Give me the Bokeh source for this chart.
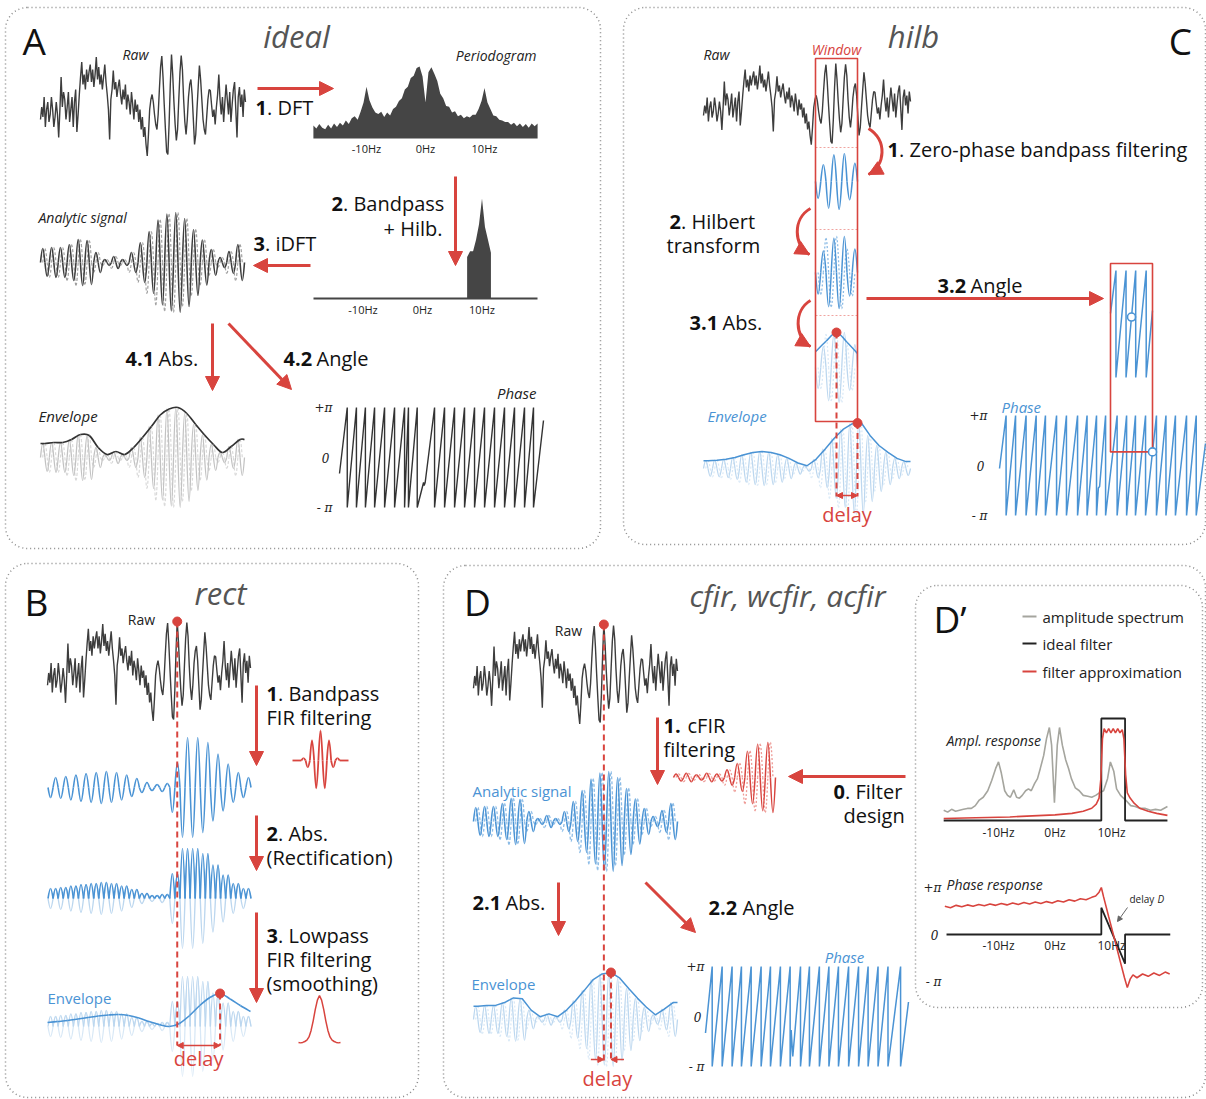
import numpy as np
from bokeh.plotting import figure
from bokeh.models import Range1d, Arrow, NormalHead, BoxAnnotation
from bokeh.core.properties import value
from bokeh.embed import file_html
from bokeh.resources import INLINE

# ---------------- data ----------------
# raw recording (normalised units), same segment shown in every panel
raw = [
    -0.3, -0.05, -0.25, 0.15, -0.45, -0.1, 0.05, -0.35, -0.2, 0.15,
    -0.1, -0.45, -0.25, 0.05, -0.2, -0.66, -0.1, 0.55, -0.05, 0.25,
    0.1, -0.3, -0.05, 0.25, -0.35, -0.1, 0.15, -0.45, 0.05, 0.3,
    -0.55, -0.2, 0.2, 0.55, 0.85, 0.4, 0.6, 0.3, 0.7, 0.45,
    0.65, 0.8, 0.45, 0.7, 0.35, 0.6, 0.95, 0.5, 0.75, 0.4,
    0.6, 0.3, 0.55, 0.8, 0.45, 0.2, -0.1, -0.7, 0.1, 0.3,
    0.68, 0.3, 0.45, 0.15, 0.35, 0.5, 0.2, 0.0, 0.3, 0.1,
    0.4, -0.1, 0.2, 0.05, -0.2, 0.25, 0.0, -0.3, 0.1, -0.15,
    0.0, -0.35, -0.1, -0.5, -0.25, -0.65, -0.45, -0.8,
    -1.03, -0.6, -0.1, 0.1, 0.2, 0.05, -0.2, -0.4,
    -0.5, -0.2, 0.3, 0.75, 0.97, 0.55, 0.0, -0.5,
    -0.95, -1.0, -0.4, 0.4, 1.0, 0.6, 0.05, -0.4,
    -0.72, -0.5, 0.1, 0.65, 0.98, 0.7, 0.1, -0.35,
    -0.6, -0.3, 0.15, 0.4, 0.5, 0.2, -0.3, -0.8,
    -0.6, -0.1, 0.35, 0.78, 0.5, 0.1, -0.3, -0.5,
    -0.6, -0.25, 0.1, 0.3, 0.28, 0.0, -0.25, -0.1,
    -0.4, -0.05, 0.2, 0.6, 0.1, -0.2, 0.15, -0.35,
    0.05, 0.4, 0.1, -0.2, 0.25, -0.35, 0.0, 0.3, 0.45,
    -0.1, -0.66, 0.15, 0.35, -0.05, 0.2, -0.25, 0.3, 0.05,
]

# periodogram on a 0.5 Hz grid from -19 Hz to +19 Hz
pgram_hz = np.arange(-19.0, 19.01, 0.5)
pgram = [
    0.18, 0.14, 0.2, 0.15, 0.13, 0.19, 0.14, 0.21, 0.16, 0.22,
    0.18, 0.25, 0.2, 0.28, 0.31, 0.26, 0.37, 0.5, 0.72, 0.53,
    0.43, 0.36, 0.34, 0.37, 0.3, 0.36, 0.32, 0.41, 0.44, 0.52,
    0.56, 0.68, 0.72, 0.84, 0.87, 0.98, 1.0, 0.86, 0.5, 0.92,
    0.99, 0.9, 0.8, 0.62, 0.56, 0.45, 0.44, 0.36, 0.38, 0.31,
    0.33, 0.28, 0.31, 0.29, 0.33, 0.33, 0.41, 0.52, 0.7, 0.5,
    0.41, 0.32, 0.31, 0.26, 0.25, 0.23, 0.23, 0.19, 0.22, 0.17,
    0.21, 0.16, 0.2, 0.15, 0.21, 0.17, 0.21,
]
band_hz = [7.5, 11.5]

# amplitude of each 10 Hz cycle
amp_analytic = [0.28, 0.3, 0.3, 0.36, 0.46, 0.44, 0.2, 0.06, 0.12, 0.06, 0.2, 0.4,
                0.62, 0.85, 0.97, 1.0, 0.88, 0.66, 0.45, 0.26, 0.1, 0.22, 0.36]
amp_hilb = [0.17, 0.18, 0.2, 0.24, 0.3, 0.35, 0.37, 0.35, 0.3, 0.22, 0.12, 0.06,
            0.2, 0.42, 0.65, 0.85, 0.97, 1.0, 0.72, 0.5, 0.35, 0.22, 0.15]
amp_fir = [0.2, 0.22, 0.25, 0.28, 0.3, 0.32, 0.3, 0.25, 0.18, 0.1, 0.06, 0.08,
           0.5, 1.0, 1.0, 0.9, 0.67, 0.47, 0.3, 0.2]
env_fir = [0.08, 0.1, 0.12, 0.15, 0.18, 0.21, 0.23, 0.24, 0.22, 0.17, 0.1,
           0.04, 0.0, 0.06, 0.22, 0.42, 0.58, 0.66, 0.55, 0.42, 0.3]
win_amp = [0.6, 0.95, 1.0, 0.65]
win_env = [0.45, 0.75, 1.0, 0.72, 0.4]
cfir_amp = [0.1, 0.12, 0.08, 0.12, 0.1, 0.22, 0.4, 0.75, 0.95, 1.0]

# filter kernels
fir_kernel = [0.08, -0.22, 0.67, -0.93, 1.0, -0.93, 0.67, -0.22, 0.08]
lp_kernel = [-0.02, -0.03, -0.02, 0.0, 0.03, 0.1, 0.24, 0.45, 0.7, 0.9, 1.0,
             0.9, 0.7, 0.45, 0.24, 0.1, 0.03, 0.0, -0.02, -0.03, -0.02]

# instantaneous phase: positions of the wraps (fraction of the segment), in units of pi
phase_ideal = dict(wraps=[.038, .083, .127, .172, .221, .27, .319, .338, .381, .466, .515,
                          .564, .613, .662, .711, .76, .809, .858, .907, .951],
                   start=-0.32, end=0.74, kinks=[(.412, -.5), (.415, -.56), (.42, -.5)])
phase_hilb = dict(wraps=[.032, .078, .129, .178, .223, .277, .325, .379, .425, .471, .515,
                         .571, .617, .66, .709, .762, .808, .854, .908, .955],
                  start=-0.06, end=0.44, kinks=[(.48, -.45), (.486, -.42)])
phase_win = dict(wraps=[.13, .37, .6, .85], start=0.2, end=0.25, kinks=[])
phase_cfir = dict(wraps=[.033, .082, .131, .177, .225, .274, .32, .369, .417, .468, .512,
                         .561, .608, .655, .705, .754, .801, .85, .899, .961],
                  start=-0.33, end=0.29, kinks=[(.422, -.27), (.43, -.8)])

# filter design: amplitude spectrum, ideal band, approximation
spec_hz = [-19.7, -19.0, -18.3, -17.6, -16.9, -16.2, -15.5, -14.8, -14.1, -13.4, -12.7, -11.9,
           -11.2, -10.5, -10.0, -9.5, -8.9, -8.4, -7.9, -7.3, -6.8, -6.3, -5.8, -5.2, -4.7,
           -4.2, -3.6, -3.1, -2.6, -2.0, -1.5, -1.0, -0.6, -0.1, 0.4, 0.8, 1.3, 1.9, 2.4,
           2.9, 3.6, 4.3, 5.0, 5.8, 6.5, 7.2, 7.9, 8.6, 9.3, 9.8, 10.4, 10.9, 11.6, 12.5,
           13.4, 14.2, 15.1, 16.0, 16.9, 17.8, 18.7, 19.9]
spec_amp = [.11, .09, .12, .1, .11, .12, .13, .13, .16, .22, .25, .32, .43, .56, .63, .51, .32,
            .27, .25, .33, .25, .24, .27, .32, .34, .32, .4, .45, .56, .7, .88, 1.0, .81, .19,
            .81, 1.0, .81, .65, .56, .45, .35, .32, .27, .26, .25, .27, .3, .32, .45, .63, .53,
            .34, .27, .22, .16, .15, .13, .13, .11, .12, .11, .15]
ideal_band = [8.2, 12.4]
approx_hz = [-19.7, -16, -12, -8, -4, 0, 3, 5, 6.5, 7.3, 7.8, 8.1, 8.4, 8.7, 9.1, 9.5, 9.9,
             10.3, 10.7, 11.1, 11.5, 11.9, 12.2, 12.5, 12.8, 13.3, 14, 15, 16.5, 18, 19.9]
approx_amp = [.02, .025, .03, .035, .045, .055, .07, .09, .12, .16, .22, .4, .8, .9, .86, .9,
              .86, .9, .86, .9, .86, .89, .8, .45, .27, .22, .17, .12, .09, .07, .05]
phase_hz = [-19.5, -18.5, -17.5, -16.5, -15.5, -14.5, -13.5, -12.5, -11.5, -10.5, -9.5, -8.5,
            -7.5, -6.5, -5.5, -4.5, -3.5, -2.5, -1.5, -0.5, 0.5, 1.5, 2.5, 3.5, 4.5, 5.5, 6.5,
            7.2, 7.8, 8.2, 8.6, 9.5, 10.5, 11.5, 12.3, 12.8, 13.3, 13.8, 14.5, 15.5, 16.5,
            17.5, 18.5, 19.5, 20.3]
approx_phase = [.60, .57, .62, .59, .63, .60, .64, .61, .65, .62, .66, .63, .67, .64, .68, .65,
                .69, .66, .70, .67, .72, .69, .74, .71, .76, .74, .79, .82, .9, 1.0, .8, .38,
                -.08, -.55, -.92, -1.13, -.95, -.86, -.92, -.84, -.89, -.82, -.87, -.8, -.84]
ideal_phase_edges = [0.57, -0.62]
freq_ticks = [-10, 0, 10]
freq_labels = ["-10Hz", "0Hz", "10Hz"]

# ---------------- style ----------------
W, H = 1206, 1099
RED = "#d8443e"
RED_L = "#ee9a95"
BLUE = "#4a93d4"
BLUE_M = "#8dbce6"
BLUE_L = "#bcd7ef"
BLUE_XL = "#d8e8f6"
DARK = "#3d3d3d"
TITLE = "#555555"
FONT = "Open Sans"
SERIF = "DejaVu Serif"
STEP = 20

p = figure(width=W, height=H, x_range=Range1d(0, W), y_range=Range1d(H, 0),
           x_axis_type=None, y_axis_type=None, output_backend="svg",
           toolbar_location=None, min_border=0)
p.grid.visible = False
p.outline_line_color = None
p.background_fill_color = "white"


def txt(x, y, s, size=18, color="#111111", style="normal", align="left", font=FONT):
    p.text(x=[x], y=[y], text=[s], text_font=value(font), text_font_size=f"{size}px",
           text_font_style=style, text_color=color, text_align=align,
           text_baseline="middle")


def step_label(y, parts, size=STEP):
    for x, s, bold in parts:
        txt(x, y, s, size, "#111111", "bold" if bold else "normal")


def arrow(x0, y0, x1, y1, size=14, width=3, color=RED, both=False):
    head = lambda: NormalHead(size=size, fill_color=color, line_color=color, line_width=1)
    p.add_layout(Arrow(end=head(), start=head() if both else None,
                       x_start=x0, y_start=y0, x_end=x1, y_end=y1,
                       line_color=color, line_width=width))


def curved_arrow(a, c0, c1, b):
    p.bezier(x0=[a[0]], y0=[a[1]], cx0=[c0[0]], cy0=[c0[1]], cx1=[c1[0]], cy1=[c1[1]],
             x1=[b[0]], y1=[b[1]], line_color=RED, line_width=3)
    sx = b[0] - 0.35 * (b[0] - c1[0])
    sy = b[1] - 0.35 * (b[1] - c1[1])
    p.add_layout(Arrow(end=NormalHead(size=14, fill_color=RED, line_color=RED),
                       x_start=sx, y_start=sy, x_end=b[0], y_end=b[1],
                       line_alpha=0.0))


def cycle_extremes(amps, t0=0.25, first=1):
    n = len(amps)
    ts, vs = [], []
    t, s = t0, first
    while t < n - 1e-9:
        ts.append(t)
        vs.append(s * amps[int(t)])
        t += 0.5
        s = -s
    return ts, vs


def draw_wave(ts, vs, x0, sx, yc, sy, color, width=1.4, dash="solid"):
    # quarter-wave cubic segments between extremes and zero crossings
    d0 = ts[1] - ts[0]
    d1 = ts[-1] - ts[-2]
    pts = [(ts[0] - d0 / 2, 0.0, False)]
    for i, (t, v) in enumerate(zip(ts, vs)):
        if i:
            pts.append(((ts[i - 1] + t) / 2, 0.0, False))
        pts.append((t, v, True))
    pts.append((ts[-1] + d1 / 2, 0.0, False))
    seg = {k: [] for k in ("x0", "y0", "x1", "y1", "cx0", "cy0", "cx1", "cy1")}
    for (ta, va, ea), (tb, vb, eb) in zip(pts[:-1], pts[1:]):
        h = tb - ta
        if ea:
            c = (ta + 0.362 * h, va, ta + 0.674 * h, 0.512 * va)
        else:
            c = (ta + 0.326 * h, 0.512 * vb, ta + 0.638 * h, vb)
        for k, v in zip(seg, (ta, va, tb, vb) + c):
            seg[k].append(v)
    X = lambda a: x0 + np.asarray(a) * sx
    Y = lambda a: yc - np.asarray(a) * sy
    p.bezier(x0=X(seg["x0"]), y0=Y(seg["y0"]), x1=X(seg["x1"]), y1=Y(seg["y1"]),
             cx0=X(seg["cx0"]), cy0=Y(seg["cy0"]), cx1=X(seg["cx1"]), cy1=Y(seg["cy1"]),
             line_color=color, line_width=width, line_dash=dash)


def smooth_line(xs, ys, color, width):
    xs = np.asarray(xs, float)
    ys = np.asarray(ys, float)
    n = len(xs)
    PX = np.concatenate([[xs[0]], xs, [xs[-1]]])
    PY = np.concatenate([[ys[0]], ys, [ys[-1]]])
    i = np.arange(n - 1)
    p.bezier(x0=xs[:-1], y0=ys[:-1], x1=xs[1:], y1=ys[1:],
             cx0=PX[i + 1] + (PX[i + 2] - PX[i]) / 6, cy0=PY[i + 1] + (PY[i + 2] - PY[i]) / 6,
             cx1=PX[i + 2] - (PX[i + 3] - PX[i + 1]) / 6, cy1=PY[i + 2] - (PY[i + 3] - PY[i + 1]) / 6,
             line_color=color, line_width=width)


def envelope_points(amps):
    n = len(amps)
    t = np.array([0.0] + [k + 0.5 for k in range(n)] + [float(n)])
    v = np.array([amps[0]] + list(amps) + [amps[-1]])
    return t, v


def sawtooth(wraps, start, end, kinks):
    ev = [(w, 0, None) for w in wraps] + [(kx, 1, ky) for kx, ky in kinks]
    ev.sort(key=lambda e: (e[0], e[1]))
    xs, ys = [0.0], [start]
    for x, kind, ky in ev:
        if kind == 0:
            xs += [x, x]
            ys += [1.0, -1.0]
        else:
            xs.append(x)
            ys.append(ky)
    xs.append(1.0)
    ys.append(end)
    return np.array(xs), np.array(ys)


def draw_phase(spec, x0, x1, yz, ypi, color, width):
    xs, ys = sawtooth(**spec)
    p.line(x0 + xs * (x1 - x0), yz - ys * ypi, line_color=color, line_width=width)
    return xs, ys


def phase_labels(x, yz, ypi, size=12):
    txt(x, yz - ypi, "+π", size, "#222", "italic", "right", SERIF)
    txt(x - 3, yz, "0", size, "#222", "italic", "right", SERIF)
    txt(x, yz + ypi, "- π", size, "#222", "italic", "right", SERIF)


def draw_raw(x0, x1, yc, sy):
    xs = np.linspace(x0, x1, len(raw))
    ys = yc - np.asarray(raw) * sy
    p.line(xs, ys, line_color=DARK, line_width=1.4)
    return xs, ys


def dashed_v(x, y0, y1):
    p.line([x, x], [y0, y1], line_color=RED, line_width=2, line_dash="6 4")


def dot(x, y, size=9):
    p.scatter([x], [y], size=size, fill_color=RED, line_color=RED)


# ---------------- panel frames ----------------
for l, r, t, b in [(5, 600, 7, 548), (623, 1205, 7, 544), (5, 418, 563, 1097),
                   (443, 1205, 565, 1097), (915, 1202, 585, 1007)]:
    p.add_layout(BoxAnnotation(left=l, right=r, top=t, bottom=b, border_radius=22,
                               fill_alpha=0.0, line_color="#888888", line_alpha=1.0,
                               line_dash="1 3", line_width=1.5))

# ---------------- A : ideal ----------------
txt(22, 40, "A", 37, "#111")
txt(296, 35, "ideal", 31, TITLE, "italic", "center")
txt(135, 54, "Raw", 14, "#222", "italic", "center")
draw_raw(40, 245, 104, 50)

hz = np.asarray(pgram_hz)
pg = np.asarray(pgram)
p.varea(x=425 + hz * 5.9, y1=138, y2=138 - pg * 72, fill_color="#454545")
txt(536, 55, "Periodogram", 14, "#222", "italic", "right")
for t_, lab in zip(freq_ticks, freq_labels):
    txt(425 + t_ * 5.9, 148, lab, 11, "#222", "normal", "center")

sel = (hz >= band_hz[0]) & (hz <= band_hz[1])
p.varea(x=422 + hz[sel] * 5.95, y1=298, y2=298 - pg[sel] * 143, fill_color="#454545")
p.line([313, 537], [298, 298], line_color="#454545", line_width=1.8)
for t_, lab in zip(freq_ticks, freq_labels):
    txt(422 + t_ * 5.95, 309, lab, 11, "#222", "normal", "center")

na = len(amp_analytic)
sxa = 204 / na
txt(38, 217, "Analytic signal", 14, "#222", "italic")
draw_wave(*cycle_extremes(amp_analytic, 0.5, 1), 40, sxa, 262, 50, "#a0a0a0", 1.2, "3 2")
draw_wave(*cycle_extremes(amp_analytic, 0.25, 1), 40, sxa, 262, 50, DARK, 1.6)

txt(38, 415, "Envelope", 15, "#222", "italic")
draw_wave(*cycle_extremes(amp_analytic, 0.5, 1), 40, sxa, 457, 50, "#d9d9d9", 1.2, "3 2")
draw_wave(*cycle_extremes(amp_analytic, 0.25, 1), 40, sxa, 457, 50, "#c2c2c2", 1.3)
te, ve = envelope_points(amp_analytic)
smooth_line(40 + te * sxa, 457 - ve * 50, "#333333", 1.7)

txt(536, 392, "Phase", 15, "#222", "italic", "right")
draw_phase(phase_ideal, 339, 543, 457, 50, "#333333", 1.4)
phase_labels(332, 457, 50)

arrow(257, 88, 333, 88)
step_label(107, [(255, "1", True), (266.5, ". DFT", False)])
arrow(455, 176, 455, 265)
step_label(203, [(331, "2", True), (342.5, ". Bandpass", False)])
step_label(228, [(383, "+ Hilb.", False)])
arrow(310, 265, 253, 265)
step_label(243, [(253, "3", True), (264.5, ". iDFT", False)])
arrow(212, 323, 212, 390)
arrow(228, 323, 291, 389)
step_label(358, [(125, "4.1", True), (158, "Abs.", False), (283, "4.2", True), (316, "Angle", False)])

# ---------------- C : hilb ----------------
txt(913, 35, "hilb", 31, TITLE, "italic", "center")
txt(1180, 40, "C", 37, "#111", "normal", "center")
txt(716, 54, "Raw", 14, "#222", "italic", "center")
draw_raw(703, 910, 103, 40)

WX0, WX1 = 815, 857
nw = len(win_amp)
sxw = (WX1 - WX0) / nw
for yy in (147, 229, 315):
    p.line([WX0, WX1], [yy, yy], line_color="#f0a4a0", line_width=1, line_dash="2 2")
draw_wave(*cycle_extremes(win_amp, 0.25, -1), WX0, sxw, 181, 28, BLUE, 1.6)
draw_wave(*cycle_extremes(win_amp, 0.5, -1), WX0, sxw, 272, 36, BLUE_M, 1.3, "2 2")
draw_wave(*cycle_extremes(win_amp, 0.25, -1), WX0, sxw, 272, 36, BLUE, 1.5)
draw_wave(*cycle_extremes(win_amp, 0.5, -1), WX0, sxw, 367, 35, BLUE_XL, 1.2, "2 2")
draw_wave(*cycle_extremes(win_amp, 0.25, -1), WX0, sxw, 367, 35, BLUE_L, 1.3)
wt = np.linspace(0, nw, len(win_env))
wxe = WX0 + wt * sxw
wye = 367 - np.asarray(win_env) * 35
smooth_line(wxe, wye, BLUE, 1.5)
kw = int(np.argmax(win_env))
p.quad(left=[WX0], right=[WX1], top=[58], bottom=[421], fill_alpha=0,
       line_color=RED, line_width=1.6)
txt((WX0 + WX1) / 2, 49, "Window", 14, RED, "italic", "center")

nh = len(amp_hilb)
sxh = 207 / nh
txt(707, 415, "Envelope", 15, BLUE, "italic")
draw_wave(*cycle_extremes(amp_hilb, 0.5, 1), 703, sxh, 468, 46, BLUE_XL, 1.2, "2 2")
draw_wave(*cycle_extremes(amp_hilb, 0.25, 1), 703, sxh, 468, 46, BLUE_L, 1.3)
th, vh = envelope_points(amp_hilb)
hx = 703 + th * sxh
hy = 468 - vh * 46
p.line(hx, hy, line_color=BLUE, line_width=1.5)
env_end_y = float(np.interp(WX1, hx, hy))

dashed_v(wxe[kw], wye[kw], 496)
dashed_v(WX1, env_end_y, 496)
dot(wxe[kw], wye[kw])
dot(WX1, env_end_y)
arrow(wxe[kw], 495, WX1, 495, size=6, width=1.5, both=True)
txt((wxe[kw] + WX1) / 2, 514, "delay", 20, RED, "normal", "center")

txt(1001, 406, "Phase", 15, BLUE, "italic")
PX0, PX1 = 999, 1205
pxs, pys = draw_phase(phase_hilb, PX0, PX1, 465, 50, BLUE, 1.5)
phase_labels(987, 465, 50)
QX0, QX1 = 1110, 1152
qxs, qys = draw_phase(phase_win, QX0, QX1, 323.5, 53.5, BLUE, 1.5)
end_val = float(np.interp((QX1 - PX0) / (PX1 - PX0), pxs, pys))
box_bottom = 465 - end_val * 50
p.quad(left=[QX0], right=[QX1], top=[263], bottom=[box_bottom], fill_alpha=0,
       line_color=RED, line_width=1.6)
mid_val = float(np.interp(0.5, qxs, qys))
p.scatter([QX0 + 0.5 * (QX1 - QX0), QX1], [323.5 - mid_val * 53.5, box_bottom], size=8,
          fill_color="white", line_color=BLUE, line_width=1.6)

curved_arrow((868, 128), (887, 140), (885, 165), (868, 174))
step_label(149, [(887, "1", True), (898.5, ". Zero-phase bandpass  filtering", False)])
curved_arrow((810, 208), (792, 218), (793, 245), (809, 254))
step_label(221, [(669, "2", True), (680.5, ". Hilbert", False)])
step_label(245, [(666, "transform", False)])
curved_arrow((810, 300), (793, 310), (794, 337), (810, 346))
step_label(322, [(689, "3.1", True), (722, "Abs.", False)])
arrow(866, 298, 1103, 298)
step_label(285, [(937, "3.2", True), (970, "Angle", False)])

# ---------------- B : rect ----------------
txt(36, 601, "B", 37, "#111", "normal", "center")
txt(220, 592, "rect", 31, TITLE, "italic", "center")
txt(141, 619, "Raw", 14, "#222", "normal", "center")
bx, by = draw_raw(47, 250, 670, 49)
ib = int(np.argmax(raw))

nf = len(amp_fir)
sxf = 203 / nf
tf, vf = cycle_extremes(amp_fir, 0.3, -1)
draw_wave(tf, vf, 47, sxf, 787, 50, BLUE, 1.6)
draw_wave(tf, vf, 47, sxf, 898, 50, BLUE_L, 1.4)
draw_wave(tf, list(np.abs(vf)), 47, sxf, 898, 50, BLUE, 1.6)
draw_wave(tf, vf, 47, sxf, 1026, 50, BLUE_XL, 1.3)
draw_wave(tf, list(np.abs(vf)), 47, sxf, 1026, 50, BLUE_L, 1.3)
fx = 47 + np.linspace(0, 1, len(env_fir)) * 203
fy = 1026 - np.asarray(env_fir) * 50
smooth_line(fx, fy, BLUE, 1.6)
kf = int(np.argmax(env_fir))
txt(47, 997, "Envelope", 15, BLUE, "normal")

dashed_v(bx[ib], by[ib], 1045)
dashed_v(fx[kf], fy[kf], 1045)
dot(bx[ib], by[ib])
dot(fx[kf], fy[kf])
arrow(bx[ib], 1045, fx[kf], 1045, size=6, width=1.5, both=True)
txt((bx[ib] + fx[kf]) / 2, 1058, "delay", 20, RED, "normal", "center")

draw_wave(list(range(len(fir_kernel))), fir_kernel, 303, 4.25, 760, 30, RED, 1.8)
p.line([292, 300.9], [760, 760], line_color=RED, line_width=1.8)
p.line([339.1, 348], [760, 760], line_color=RED, line_width=1.8)
p.line(np.linspace(298, 340, len(lp_kernel)), 1041 - np.asarray(lp_kernel) * 46,
       line_color=RED, line_width=1.5)

arrow(256, 685, 256, 765)
step_label(693, [(266, "1", True), (277.5, ". Bandpass", False)])
step_label(717, [(266, "FIR filtering", False)])
arrow(256, 815, 256, 870)
step_label(833, [(266, "2", True), (277.5, ". Abs.", False)])
step_label(857, [(266, "(Rectification)", False)])
arrow(256, 912, 256, 1002)
step_label(935, [(266, "3", True), (277.5, ". Lowpass", False)])
step_label(959, [(266, "FIR filtering", False)])
step_label(983, [(266, "(smoothing)", False)])

# ---------------- D : cfir ----------------
txt(477, 601, "D", 37, "#111", "normal", "center")
txt(787, 595, "cfir, wcfir, acfir", 30, TITLE, "italic", "center")
txt(568, 630, "Raw", 14, "#222", "normal", "center")
dx, dy = draw_raw(473, 677, 673, 49)

nc = len(cfir_amp)
draw_wave(*cycle_extremes(cfir_amp, 0.5, 1), 673, 102 / nc, 777, 35, RED_L, 1.3, "2 2")
draw_wave(*cycle_extremes(cfir_amp, 0.25, 1), 673, 102 / nc, 777, 35, RED, 1.5)

sxd = 204 / na
txt(472, 790, "Analytic signal", 15, BLUE, "normal")
draw_wave(*cycle_extremes(amp_analytic, 0.5, 1), 473, sxd, 821, 50, BLUE_M, 1.3, "3 2")
draw_wave(*cycle_extremes(amp_analytic, 0.25, 1), 473, sxd, 821, 50, BLUE, 1.6)

txt(471, 983, "Envelope", 15, BLUE, "normal")
draw_wave(*cycle_extremes(amp_analytic, 0.5, 1), 473, sxd, 1019, 47, BLUE_XL, 1.2, "2 2")
draw_wave(*cycle_extremes(amp_analytic, 0.25, 1), 473, sxd, 1019, 47, BLUE_L, 1.3)
ex = 473 + te * sxd
ey = 1019 - ve * 47
p.line(ex, ey, line_color=BLUE, line_width=1.5)
kd = int(np.argmax(ve))

dashed_v(dx[ib], dy[ib], 1062)
dashed_v(ex[kd], ey[kd], 1062)
dot(dx[ib], dy[ib])
dot(ex[kd], ey[kd])
arrow(dx[ib] - 13, 1059, dx[ib], 1059, size=6, width=1.5)
arrow(ex[kd] + 13, 1059, ex[kd], 1059, size=6, width=1.5)
txt((dx[ib] + ex[kd]) / 2, 1078, "delay", 20, RED, "normal", "center")

txt(844, 956, "Phase", 15, BLUE, "italic", "center")
draw_phase(phase_cfir, 705, 908, 1016, 50, BLUE, 1.5)
phase_labels(704, 1016, 50)

arrow(657, 717, 657, 784)
step_label(725, [(663, "1.", True), (687, "cFIR", False)])
step_label(749, [(663, "filtering", False)])
arrow(905, 776, 788, 776)
step_label(791, [(833, "0", True), (844.5, ". Filter", False)])
step_label(815, [(843, "design", False)])
arrow(558, 882, 558, 935)
step_label(902, [(472, "2.1", True), (505, "Abs.", False)])
arrow(645, 882, 695, 932)
step_label(907, [(708, "2.2", True), (742, "Angle", False)])

# ---------------- D' : filter design ----------------
txt(933, 618, "D’", 37, "#111")
for yy, col, lab in [(616, "#a5a59e", "amplitude spectrum"), (643, "#222222", "ideal filter"),
                     (671, RED, "filter approximation")]:
    p.line([1022, 1036], [yy, yy], line_color=col, line_width=2)
    txt(1042, yy, lab, 15, "#222")

FZ, FS = 1054.5, 5.65
txt(946, 740, "Ampl. response", 14, "#222", "italic")
p.line(FZ + np.asarray(spec_hz) * FS, 820 - np.asarray(spec_amp) * 93,
       line_color="#a5a59e", line_width=1.6)
ib0, ib1 = ideal_band
p.line(FZ + np.array([-19.7, ib0, ib0, ib1, ib1, 19.9]) * FS,
       820 - np.array([0, 0, 1, 1, 0, 0]) * 102, line_color="#222222", line_width=1.8)
p.line(FZ + np.asarray(approx_hz) * FS, 820 - np.asarray(approx_amp) * 102,
       line_color=RED, line_width=1.6)
for t_, lab in zip(freq_ticks, freq_labels):
    txt(FZ + t_ * FS, 832, lab, 12, "#222", "normal", "center")

txt(946, 884, "Phase response", 14, "#222", "italic")
e0, e1 = ideal_phase_edges
p.line(FZ + np.array([-19.2, ib0, ib0, ib1, ib1, 20.4]) * FS,
       934 - np.array([0, 0, e0, e1, 0, 0]) * 47, line_color="#222222", line_width=1.8)
p.line(FZ + np.asarray(phase_hz) * FS, 934 - np.asarray(approx_phase) * 47,
       line_color=RED, line_width=1.6)
for t_, lab in zip(freq_ticks, freq_labels):
    txt(FZ + t_ * FS, 945, lab, 12, "#222", "normal", "center")
phase_labels(941, 934, 47)
txt(1129, 898, "delay", 10, "#222")
txt(1157, 898, "D", 10, "#222", "italic")
p.add_layout(Arrow(end=NormalHead(size=5, fill_color="#666", line_color="#666"),
                   x_start=1127, y_start=907, x_end=1117, y_end=921,
                   line_color="#666", line_width=1))

open("out.html", "w").write(file_html(p, INLINE))
